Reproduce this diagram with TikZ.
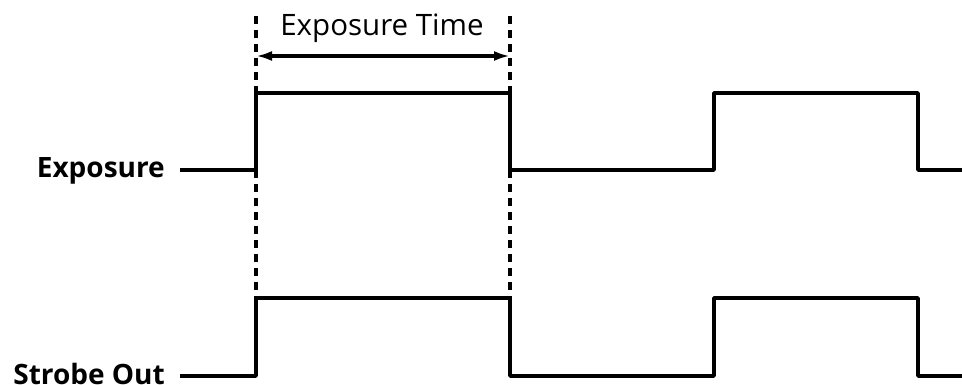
\documentclass[tikz,border=0pt]{standalone}
\usepackage{fontspec}
\setmainfont{Open Sans}
\usetikzlibrary{arrows.meta}
\begin{document}
\begin{tikzpicture}[x=1pt,y=-1pt,
  wave/.style={line width=3.5pt,line join=round},
  guide/.style={line width=3.5pt,dash pattern=on 8pt off 6pt},
  lbl/.style={font=\fontsize{28}{28}\selectfont\bfseries,anchor=east,inner sep=0pt},
  ttl/.style={font=\fontsize{29.5}{29.5}\selectfont,inner sep=0pt}]
\useasboundingbox (0,0) rectangle (962,385);
% labels
\node[lbl] (expLabel) at (165,171) {Exposure};
\node[lbl] (strLabel) at (165,374) {Strobe Out};
% coordinates
\coordinate (e0) at (180,170);
\coordinate (e1) at (256,170);
\coordinate (e2) at (256,93);
\coordinate (e3) at (510,93);
\coordinate (e4) at (510,170);
\coordinate (e5) at (714,170);
\coordinate (e6) at (714,93);
\coordinate (e7) at (918,93);
\coordinate (e8) at (918,170);
\coordinate (e9) at (962,170);
\coordinate (s0) at (180,376);
\coordinate (s1) at (256,376);
\coordinate (s2) at (256,298);
\coordinate (s3) at (510,298);
\coordinate (s4) at (510,376);
\coordinate (s5) at (714,376);
\coordinate (s6) at (714,298);
\coordinate (s7) at (918,298);
\coordinate (s8) at (918,376);
\coordinate (s9) at (962,376);
\draw[wave] (e0) -- (e1) -- (e2) -- (e3) -- (e4) -- (e5) -- (e6) -- (e7) -- (e8) -- (e9);
\draw[wave] (s0) -- (s1) -- (s2) -- (s3) -- (s4) -- (s5) -- (s6) -- (s7) -- (s8) -- (s9);
% guides
\coordinate (gL) at (256,16);
\coordinate (gR) at (510,16);
\draw[guide] (gL) -- (s2);
\draw[guide] (gR) -- (s3);
\coordinate (aL) at (256,56);
\coordinate (aR) at (510,56);
\draw[line width=3.5pt,{Latex[length=16pt,width=10pt]}-{Latex[length=16pt,width=10pt]}] (aL) -- (aR);
\node[ttl] (ttlLabel) at (382,28) {Exposure Time};
\end{tikzpicture}
\end{document}
